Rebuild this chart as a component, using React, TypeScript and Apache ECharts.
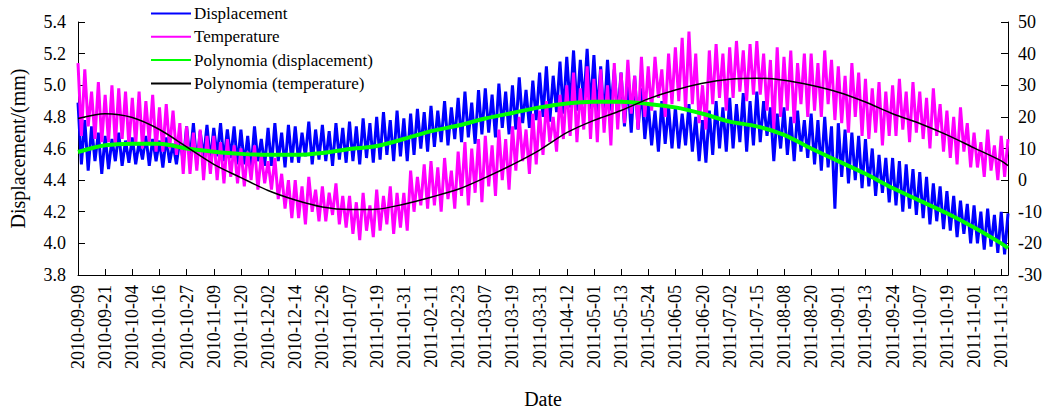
import React, { useEffect, useRef } from "react";
import * as echarts from "echarts";

// Date labels shown every 8 records along the x axis
const dateLabels = [
  "2010-09-09", "2010-09-21", "2010-10-04", "2010-10-16", "2010-10-27", "2010-11-09",
  "2010-11-20", "2010-12-02", "2010-12-14", "2010-12-26", "2011-01-07", "2011-01-19",
  "2011-01-31", "2011-02-11", "2011-02-23", "2011-03-07", "2011-03-19", "2011-03-31",
  "2011-04-12", "2011-05-01", "2011-05-13", "2011-05-24", "2011-06-05", "2011-06-20",
  "2011-07-02", "2011-07-15", "2011-08-08", "2011-08-20", "2011-09-01", "2011-09-13",
  "2011-09-24", "2011-10-07", "2011-10-19", "2011-11-01", "2011-11-13",
];
const recordsPerLabel = 8;

// Displacement records (mm)
const displacement = [
  4.89, 4.50, 4.78, 4.46, 4.74, 4.52, 4.70, 4.44,
  4.68, 4.47, 4.66, 4.52, 4.70, 4.49, 4.65, 4.51,
  4.67, 4.50, 4.64, 4.53, 4.68, 4.49, 4.66, 4.52,
  4.65, 4.48, 4.67, 4.51, 4.63, 4.50, 4.66, 4.52,
  4.74, 4.53, 4.76, 4.50, 4.71, 4.54, 4.75, 4.52,
  4.73, 4.55, 4.76, 4.52, 4.72, 4.54, 4.74, 4.50,
  4.72, 4.50, 4.68, 4.47, 4.74, 4.52, 4.66, 4.49,
  4.73, 4.49, 4.76, 4.52, 4.70, 4.48, 4.75, 4.51,
  4.74, 4.51, 4.70, 4.55, 4.77, 4.50, 4.72, 4.53,
  4.75, 4.52, 4.71, 4.49, 4.76, 4.53, 4.73, 4.51,
  4.77, 4.52, 4.74, 4.50, 4.79, 4.54, 4.76, 4.51,
  4.80, 4.53, 4.83, 4.56, 4.78, 4.52, 4.84, 4.55,
  4.79, 4.52, 4.82, 4.56, 4.85, 4.60, 4.83, 4.58,
  4.87, 4.61, 4.84, 4.64, 4.90, 4.62, 4.86, 4.66,
  4.92, 4.64, 4.96, 4.67, 4.89, 4.63, 4.97, 4.69,
  4.98, 4.70, 4.94, 4.67, 5.01, 4.73, 4.96, 4.69,
  5.00, 4.72, 5.05, 4.76, 4.97, 4.73, 5.03, 4.78,
  5.08, 4.80, 5.12, 4.77, 5.06, 4.83, 5.15, 4.82,
  5.18, 4.86, 5.22, 4.84, 5.16, 4.88, 5.23, 4.85,
  5.19, 4.82, 5.12, 4.78, 5.16, 4.84, 5.10, 4.80,
  5.08, 4.74, 5.02, 4.70, 5.06, 4.72, 4.98, 4.66,
  4.88, 4.62, 4.84, 4.58, 4.90, 4.63, 4.86, 4.60,
  4.86, 4.60, 4.82, 4.62, 4.88, 4.58, 4.80, 4.52,
  4.78, 4.51, 4.84, 4.56, 4.90, 4.60, 4.86, 4.58,
  4.92, 4.60, 4.88, 4.64, 4.95, 4.58, 4.90, 4.62,
  4.96, 4.64, 4.90, 4.68, 4.86, 4.52, 4.82, 4.60,
  4.86, 4.56, 4.80, 4.52, 4.84, 4.58, 4.78, 4.54,
  4.82, 4.50, 4.78, 4.46, 4.80, 4.48, 4.74, 4.22,
  4.76, 4.42, 4.72, 4.38, 4.70, 4.40, 4.68, 4.35,
  4.66, 4.36, 4.60, 4.30, 4.56, 4.32, 4.54, 4.26,
  4.54, 4.24, 4.52, 4.20, 4.50, 4.22, 4.47, 4.18,
  4.45, 4.16, 4.42, 4.12, 4.38, 4.14, 4.36, 4.09,
  4.33, 4.08, 4.30, 4.04, 4.27, 4.06, 4.25, 4.00,
  4.24, 4.00, 4.20, 3.96, 4.22, 3.98, 4.18, 3.94,
  4.20, 3.93, 4.19,
];

// Temperature records (°C)
const temperature = [
  37, 14, 35, 17, 28, 13, 31, 12,
  27, 12, 30, 11, 29, 13, 28, 11,
  26, 11, 28, 10, 25, 12, 27, 9,
  23, 9, 24, 10, 22, 8, 18, 2,
  17, 2, 15, 3, 16, 0, 14, 2,
  14, 0, 12, -1, 13, 1, 11, -1,
  10, -2, 9, 0, 11, -3, 8, -1,
  6, -3, 7, -6, 2, -9, 0, -12,
  0, -12, -2, -14, 1, -10, -3, -13,
  -2, -13, -4, -11, -1, -14, -5, -15,
  -5, -17, -7, -19, -4, -16, -8, -18,
  -3, -16, -5, -14, -2, -17, -4, -15,
  -4, -16, 3, -10, 1, -8, 5, -9,
  6, -8, 4, -10, 7, -6, 3, -9,
  9, -5, 12, -8, 10, -4, 13, -7,
  14, -2, 11, -5, 16, 0, 13, -3,
  17, 3, 20, 6, 16, 2, 21, 5,
  22, 8, 25, 12, 20, 9, 27, 13,
  30, 14, 34, 12, 29, 16, 36, 13,
  32, 12, 35, 15, 30, 11, 37, 16,
  34, 18, 38, 21, 33, 16, 39, 20,
  36, 22, 39, 26, 35, 20, 40, 24,
  42, 25, 45, 22, 47, 24, 40, 18,
  30, 16, 41, 24, 43, 26, 40, 22,
  42, 26, 44, 28, 41, 25, 43, 27,
  44, 27, 40, 22, 38, 16, 42, 20,
  39, 22, 41, 18, 37, 24, 40, 20,
  40, 22, 37, 20, 41, 24, 38, 19,
  36, 18, 33, 15, 37, 20, 34, 14,
  32, 13, 29, 15, 31, 11, 28, 14,
  30, 14, 32, 16, 28, 12, 31, 15,
  28, 13, 26, 10, 29, 14, 24, 9,
  22, 7, 20, 5, 23, 9, 18, 4,
  15, 4, 12, 1, 16, 3, 11, 0,
  14, 1, 13,
];

// Polynomial fits, sampled at each labelled date plus the last record
const displacementFit = [
  4.578, 4.62, 4.63, 4.63, 4.60, 4.58, 4.566, 4.56, 4.56, 4.572, 4.597, 4.616,
  4.66, 4.71, 4.745, 4.79, 4.825, 4.86, 4.885, 4.895, 4.895, 4.882, 4.86, 4.82,
  4.77, 4.74, 4.686, 4.60, 4.52, 4.44, 4.35, 4.27, 4.19, 4.10, 4.00, 3.97,
];
const temperatureFit = [
  19.5, 21.0, 19.8, 16.0, 10.5, 5.0, 0.8, -3.3, -6.3, -8.5, -9.3, -9.2,
  -7.6, -5.4, -2.9, 0.8, 4.9, 9.5, 15.0, 18.9, 22.0, 25.7, 28.5, 30.6,
  31.9, 32.2, 31.6, 30.0, 27.8, 24.7, 21.0, 17.9, 14.3, 10.2, 6.1, 4.6,
];

const FONT = "'Liberation Serif', 'Times New Roman', serif";

export default function App() {
  const ref = useRef<HTMLDivElement>(null);

  useEffect(() => {
    if (!ref.current) return;
    const chart = echarts.init(ref.current, null, { renderer: "svg" });
    const lastIndex = displacement.length - 1;
    const fitX = (k: number) => Math.min(k * recordsPerLabel, lastIndex);

    const tickLabel = { fontFamily: FONT, fontSize: 18, color: "#000" };
    const axisLine = { show: true, onZero: false, lineStyle: { color: "#000", width: 1 } };
    const axisTick = { show: true, inside: true, length: 6, lineStyle: { color: "#000" } };

    chart.setOption({
      animation: false,
      backgroundColor: "#fff",
      textStyle: { fontFamily: FONT },
      grid: { left: 76, right: 33, top: 22, bottom: 135 },
      legend: {
        orient: "vertical",
        left: 150,
        top: 5,
        padding: 0,
        itemWidth: 40,
        itemHeight: 14,
        itemGap: 6.3,
        itemStyle: { opacity: 0 },
        textStyle: { fontFamily: FONT, fontSize: 17, color: "#000", padding: [0, 0, 0, -2] },
        data: [
          "Displacement",
          "Temperature",
          "Polynomia (displacement)",
          "Polynomia (temperature)",
        ],
      },
      xAxis: {
        type: "value",
        min: 0,
        max: lastIndex,
        interval: recordsPerLabel,
        name: "Date",
        nameLocation: "middle",
        nameGap: 114,
        nameTextStyle: { fontFamily: FONT, fontSize: 20, color: "#000" },
        axisLine,
        axisTick,
        splitLine: { show: false },
        axisLabel: {
          ...tickLabel,
          rotate: 90,
          margin: 10,
          showMaxLabel: false,
          formatter: (v: number) =>
            v % recordsPerLabel === 0 ? dateLabels[v / recordsPerLabel] ?? "" : "",
        },
      },
      yAxis: [
        {
          type: "value",
          min: 3.8,
          max: 5.4,
          interval: 0.2,
          name: "Displacement/(mm)",
          nameLocation: "middle",
          nameGap: 50,
          nameTextStyle: { fontFamily: FONT, fontSize: 20, color: "#000" },
          axisLine,
          axisTick: { ...axisTick, length: 7 },
          splitLine: { show: false },
          axisLabel: { ...tickLabel, margin: 12, formatter: (v: number) => v.toFixed(1) },
        },
        {
          type: "value",
          min: -30,
          max: 50,
          interval: 10,
          position: "right",
          axisLine,
          axisTick: { ...axisTick, length: 7 },
          splitLine: { show: false },
          axisLabel: { ...tickLabel, margin: 10 },
        },
      ],
      series: [
        {
          name: "Displacement",
          type: "line",
          yAxisIndex: 0,
          symbol: "none",
          color: "#0000ff",
          lineStyle: { color: "#0000ff", width: 3 },
          data: displacement.map((v, i) => [i, v]),
        },
        {
          name: "Temperature",
          type: "line",
          yAxisIndex: 1,
          symbol: "none",
          color: "#ff00ff",
          lineStyle: { color: "#ff00ff", width: 3 },
          data: temperature.map((v, i) => [i, v]),
        },
        {
          name: "Polynomia (displacement)",
          type: "line",
          yAxisIndex: 0,
          symbol: "none",
          smooth: 0.3,
          color: "#00ff00",
          lineStyle: { color: "#00ff00", width: 4 },
          data: displacementFit.map((v, k) => [fitX(k), v]),
        },
        {
          name: "Polynomia (temperature)",
          type: "line",
          yAxisIndex: 1,
          symbol: "none",
          smooth: 0.3,
          color: "#000",
          lineStyle: { color: "#000", width: 1.5 },
          data: temperatureFit.map((v, k) => [fitX(k), v]),
        },
      ],
    });

    return () => chart.dispose();
  }, []);

  return (
    <div
      ref={ref}
      style={{ position: "fixed", left: 0, top: 0, width: 1045, height: 414 }}
    />
  );
}
